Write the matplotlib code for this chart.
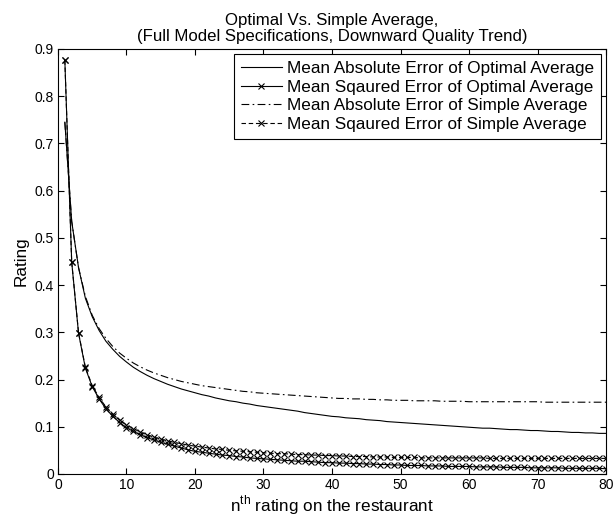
import matplotlib
matplotlib.use('Agg', force=True)
import matplotlib.pyplot as plt
import numpy as np

plt.rcParams['font.family'] = ['Liberation Sans', 'DejaVu Sans']

n_rating = list(range(1, 81))

mae_optimal = [0.745, 0.535, 0.437, 0.372, 0.333, 0.304, 0.281, 0.264, 0.249, 0.237,
               0.226, 0.217, 0.209, 0.202, 0.196, 0.190, 0.185, 0.180, 0.176, 0.172,
               0.168, 0.165, 0.161, 0.158, 0.155, 0.153, 0.150, 0.148, 0.145, 0.143,
               0.141, 0.139, 0.137, 0.135, 0.133, 0.130, 0.128, 0.126, 0.124, 0.122,
               0.121, 0.119, 0.118, 0.117, 0.115, 0.114, 0.113, 0.111, 0.110, 0.109,
               0.108, 0.107, 0.106, 0.105, 0.104, 0.103, 0.102, 0.101, 0.100, 0.099,
               0.098, 0.097, 0.097, 0.096, 0.095, 0.094, 0.094, 0.093, 0.092, 0.092,
               0.091, 0.090, 0.090, 0.089, 0.088, 0.088, 0.087, 0.087, 0.086, 0.086]

mse_optimal = [0.876, 0.449, 0.298, 0.224, 0.185, 0.159, 0.138, 0.122, 0.109, 0.098,
               0.090, 0.083, 0.077, 0.072, 0.067, 0.063, 0.059, 0.055, 0.051, 0.048,
               0.046, 0.044, 0.042, 0.040, 0.039, 0.037, 0.036, 0.034, 0.033, 0.032,
               0.031, 0.030, 0.029, 0.028, 0.027, 0.027, 0.026, 0.025, 0.024, 0.024,
               0.023, 0.023, 0.022, 0.022, 0.021, 0.021, 0.020, 0.020, 0.019, 0.019,
               0.018, 0.018, 0.018, 0.017, 0.017, 0.017, 0.016, 0.016, 0.016, 0.016,
               0.015, 0.015, 0.015, 0.015, 0.014, 0.014, 0.014, 0.014, 0.013, 0.013,
               0.013, 0.013, 0.013, 0.012, 0.012, 0.012, 0.012, 0.012, 0.012, 0.011]

mae_simple = [0.745, 0.535, 0.437, 0.376, 0.336, 0.308, 0.287, 0.270, 0.256, 0.245,
              0.235, 0.227, 0.220, 0.214, 0.209, 0.204, 0.200, 0.196, 0.193, 0.190,
              0.187, 0.185, 0.183, 0.181, 0.179, 0.177, 0.175, 0.174, 0.172, 0.171,
              0.170, 0.169, 0.168, 0.167, 0.166, 0.165, 0.164, 0.163, 0.162, 0.161,
              0.160, 0.160, 0.159, 0.159, 0.158, 0.158, 0.157, 0.157, 0.156, 0.156,
              0.156, 0.155, 0.155, 0.155, 0.155, 0.154, 0.154, 0.154, 0.154, 0.153,
              0.153, 0.153, 0.153, 0.153, 0.153, 0.153, 0.153, 0.153, 0.153, 0.153,
              0.152, 0.152, 0.152, 0.152, 0.152, 0.152, 0.152, 0.152, 0.152, 0.152]

mse_simple = [0.876, 0.449, 0.299, 0.226, 0.187, 0.162, 0.142, 0.126, 0.114, 0.104,
              0.096, 0.089, 0.083, 0.078, 0.074, 0.070, 0.067, 0.064, 0.061, 0.059,
              0.057, 0.055, 0.053, 0.052, 0.050, 0.049, 0.048, 0.047, 0.046, 0.045,
              0.044, 0.043, 0.043, 0.042, 0.041, 0.041, 0.040, 0.040, 0.039, 0.039,
              0.038, 0.038, 0.037, 0.037, 0.037, 0.036, 0.036, 0.036, 0.035, 0.035,
              0.035, 0.035, 0.034, 0.034, 0.034, 0.034, 0.034, 0.034, 0.034, 0.034,
              0.034, 0.034, 0.033, 0.033, 0.033, 0.033, 0.033, 0.033, 0.033, 0.033,
              0.033, 0.033, 0.033, 0.033, 0.033, 0.033, 0.033, 0.033, 0.033, 0.033]

labels = ['Mean Absolute Error of Optimal Average',
          'Mean Sqaured Error of Optimal Average',
          'Mean Absolute Error of Simple Average',
          'Mean Sqaured Error of Simple Average']

fig = plt.figure(figsize=(6.13, 5.2), dpi=100)
ax = fig.add_axes([0.0946, 0.0885, 0.894, 0.8173])

ax.plot(n_rating, mae_optimal, color='k', lw=0.8, ls='-', label=labels[0])
ax.plot(n_rating, mse_optimal, color='k', lw=0.8, ls='-', marker='x', ms=3.8, mew=0.8, label=labels[1])
ax.plot(n_rating, mae_simple, color='k', lw=0.8, dashes=(7, 3, 1.5, 3), label=labels[2])
ax.plot(n_rating, mse_simple, color='k', lw=0.8, dashes=(4, 2.5), marker='x', ms=3.8, mew=0.8, label=labels[3])

ax.set_xlim(0, 80)
ax.set_ylim(0, 0.9)
ax.set_xticks(np.arange(0, 81, 10))
ax.set_yticks(np.arange(0, 0.91, 0.1))
ax.set_yticklabels(['0', '0.1', '0.2', '0.3', '0.4', '0.5', '0.6', '0.7', '0.8', '0.9'])
ax.tick_params(direction='in', top=True, right=True, labelsize=10, length=4, width=0.8, pad=3)
for sp in ax.spines.values():
    sp.set_linewidth(0.8)

ax.set_xlabel('n$^{\\mathregular{th}}$ rating on the restaurant', fontsize=12.3, labelpad=1)
ax.set_ylabel('Rating', fontsize=12.3, labelpad=4)
ax.set_title('Optimal Vs. Simple Average,\n(Full Model Specifications, Downward Quality Trend)',
             fontsize=12.1, pad=6, linespacing=1.05)

leg = ax.legend(loc='upper right', fontsize=12.3, fancybox=False, edgecolor='k',
                borderaxespad=0.3, handlelength=2.4, handletextpad=0.3,
                labelspacing=0.22, borderpad=0.4, framealpha=1)
leg.get_frame().set_linewidth(0.8)

fig.savefig('out.png', dpi=100)
